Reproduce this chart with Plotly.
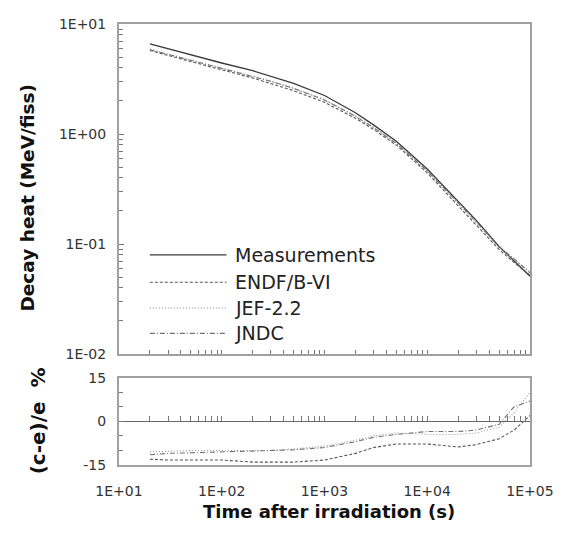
import plotly.graph_objects as go

# ---- data ----
time_s = [20, 30, 50, 100, 200, 300, 500, 1000, 2000, 3000, 5000,
          10000, 20000, 30000, 50000, 70000, 100000]

measurements = [6.6, 5.96, 5.25, 4.42, 3.76, 3.35, 2.88, 2.24, 1.56, 1.21, 0.86,
                0.48, 0.245, 0.164, 0.095, 0.070, 0.051]
endf_b6 = [5.74, 5.17, 4.55, 3.83, 3.23, 2.88, 2.48, 1.94, 1.39, 1.10, 0.793,
           0.443, 0.223, 0.151, 0.0893, 0.0679, 0.0520]
jef22 = [5.91, 5.35, 4.73, 3.98, 3.38, 3.02, 2.61, 2.05, 1.459, 1.15, 0.826,
         0.458, 0.234, 0.157, 0.0931, 0.0721, 0.0561]
jndc = [5.84, 5.30, 4.68, 3.96, 3.37, 3.02, 2.60, 2.04, 1.451, 1.143, 0.821,
        0.463, 0.236, 0.159, 0.0941, 0.0735, 0.0546]

# (c-e)/e in percent
dev_endf = [-13.0, -13.3, -13.3, -13.3, -14.0, -14.0, -14.0, -13.3, -11.0, -9.0, -7.8,
            -7.8, -8.8, -8.0, -6.0, -3.0, 2.0]
dev_jef = [-10.5, -10.3, -10.0, -10.0, -10.0, -10.0, -9.5, -8.5, -6.5, -5.0, -4.0,
           -4.5, -4.5, -4.0, -2.0, 3.0, 10.0]
dev_jndc = [-11.5, -11.0, -10.8, -10.5, -10.3, -10.0, -9.8, -9.0, -7.0, -5.5, -4.5,
            -3.5, -3.5, -3.0, -1.0, 5.0, 7.0]

series_names = ["Measurements", "ENDF/B-VI", "JEF-2.2", "JNDC"]

x_tickvals = [10, 100, 1000, 10000, 100000]
x_ticktext = ["1E+01", "1E+02", "1E+03", "1E+04", "1E+05"]
y_tickvals = [0.01, 0.1, 1, 10]
y_ticktext = ["1E-02", "1E-01", "1E+00", "1E+01"]
dev_tickvals = [-15, -10, -5, 0, 5, 10, 15]
dev_ticktext = ["-15", "", "", "0", "", "", "15"]

# ---- styles ----
FONT = "DejaVu Sans"
styles = {
    "Measurements": dict(color="#3a3a3a", dash="solid", width=1.3),
    "ENDF/B-VI": dict(color="#555555", dash="3px,2px", width=1.1),
    "JEF-2.2": dict(color="#9a9a9a", dash="1px,2px", width=1.1),
    "JNDC": dict(color="#707070", dash="5px,2px,1px,2px", width=1.1),
}
frame = "#a0a0a0"

fig = go.Figure()

top_series = [measurements, endf_b6, jef22, jndc]
for name, ys in zip(series_names, top_series):
    fig.add_trace(go.Scatter(x=time_s, y=ys, mode="lines", name=name,
                             line=styles[name], xaxis="x", yaxis="y",
                             showlegend=False))

for name, ys in zip(series_names[1:], [dev_endf, dev_jef, dev_jndc]):
    fig.add_trace(go.Scatter(x=time_s, y=ys, mode="lines", name=name,
                             line=styles[name], xaxis="x2", yaxis="y2",
                             showlegend=False))

# invisible trace so the zero-line axis is drawn
fig.add_trace(go.Scatter(x=[time_s[0], time_s[-1]], y=[0, 0], mode="lines",
                         line=dict(width=0), xaxis="x3", yaxis="y2",
                         showlegend=False, hoverinfo="skip"))

top_dom = [0.2517, 1.0]
bot_dom = [0.0, 0.198]

axis_common = dict(showline=True, linecolor=frame, linewidth=2, mirror=True,
                   showgrid=False, zeroline=False)

# page body has an 8px margin, so the figure is 554x518 to fill 570x534
fig.update_layout(
    width=554, height=518,
    margin=dict(l=111, r=30, t=8, b=61),
    paper_bgcolor="white", plot_bgcolor="white",
    font=dict(family=FONT, color="#222222", size=14),
    xaxis=dict(type="log", range=[1, 5], domain=[0, 1], anchor="y",
               showticklabels=False, tickvals=x_tickvals,
               ticks="inside", ticklen=4, tickcolor="#777",
               minor=dict(ticks="inside", ticklen=4, dtick="D1", tickcolor="#777"),
               **axis_common),
    yaxis=dict(type="log", range=[-2, 1], domain=top_dom, anchor="x",
               tickvals=y_tickvals, ticktext=y_ticktext,
               ticks="inside", ticklen=5, tickcolor="#777",
               ticklabelstandoff=8,
               minor=dict(ticks="inside", ticklen=4, dtick="D1", tickcolor="#777"),
               tickfont=dict(size=14, color="#333"),
               **axis_common),
    xaxis2=dict(type="log", range=[1, 5], domain=[0, 1], anchor="y2",
                tickvals=x_tickvals, ticktext=x_ticktext, ticks="",
                ticklabelstandoff=12,
                tickfont=dict(size=14, color="#333"),
                **axis_common),
    yaxis2=dict(range=[-15, 15], domain=bot_dom, anchor="x2",
                tickvals=dev_tickvals, ticktext=dev_ticktext,
                ticks="inside", ticklen=4, tickcolor="#777",
                ticklabelstandoff=8,
                tickfont=dict(size=14, color="#333"),
                **axis_common),
    xaxis3=dict(type="log", range=[1, 5], overlaying="x2", anchor="free",
                position=0.099, showline=True, linecolor="#666", linewidth=1.3,
                showticklabels=False, tickvals=x_tickvals,
                ticks="inside", ticklen=5, tickcolor="#777",
                minor=dict(ticks="inside", ticklen=5, dtick="D1", tickcolor="#777"),
                showgrid=False, zeroline=False),
)

# axis titles
fig.add_annotation(text="<b>Decay heat (MeV/fiss)</b>", xref="paper", yref="paper",
                   x=-0.223, y=0.605, textangle=-90, showarrow=False,
                   xanchor="center", yanchor="middle",
                   font=dict(family=FONT, size=18.5, color="#111"))
fig.add_annotation(text="<b>(c-e)/e  %</b>", xref="paper", yref="paper",
                   x=-0.1985, y=0.1, textangle=-90, showarrow=False,
                   xanchor="center", yanchor="middle",
                   font=dict(family=FONT, size=20, color="#111"))
fig.add_annotation(text="<b>Time after irradiation (s)</b>", xref="paper", yref="paper",
                   x=0.51, y=-0.105, showarrow=False,
                   xanchor="center", yanchor="middle",
                   font=dict(family=FONT, size=18, color="#111"))

# manual legend inside the upper panel
legend_rows_y = [0.4766, 0.4143, 0.3563, 0.2984]
for name, ly in zip(series_names, legend_rows_y):
    st = styles[name]
    fig.add_shape(type="line", xref="paper", yref="paper",
                  x0=0.075, x1=0.2615, y0=ly, y1=ly,
                  line=dict(color=st["color"], dash=st["dash"], width=st["width"]))
    fig.add_annotation(text=name, xref="paper", yref="paper", x=0.278, y=ly,
                       xanchor="left", yanchor="middle", showarrow=False,
                       font=dict(family=FONT, size=19, color="#222"))

fig.write_html("out.html")
